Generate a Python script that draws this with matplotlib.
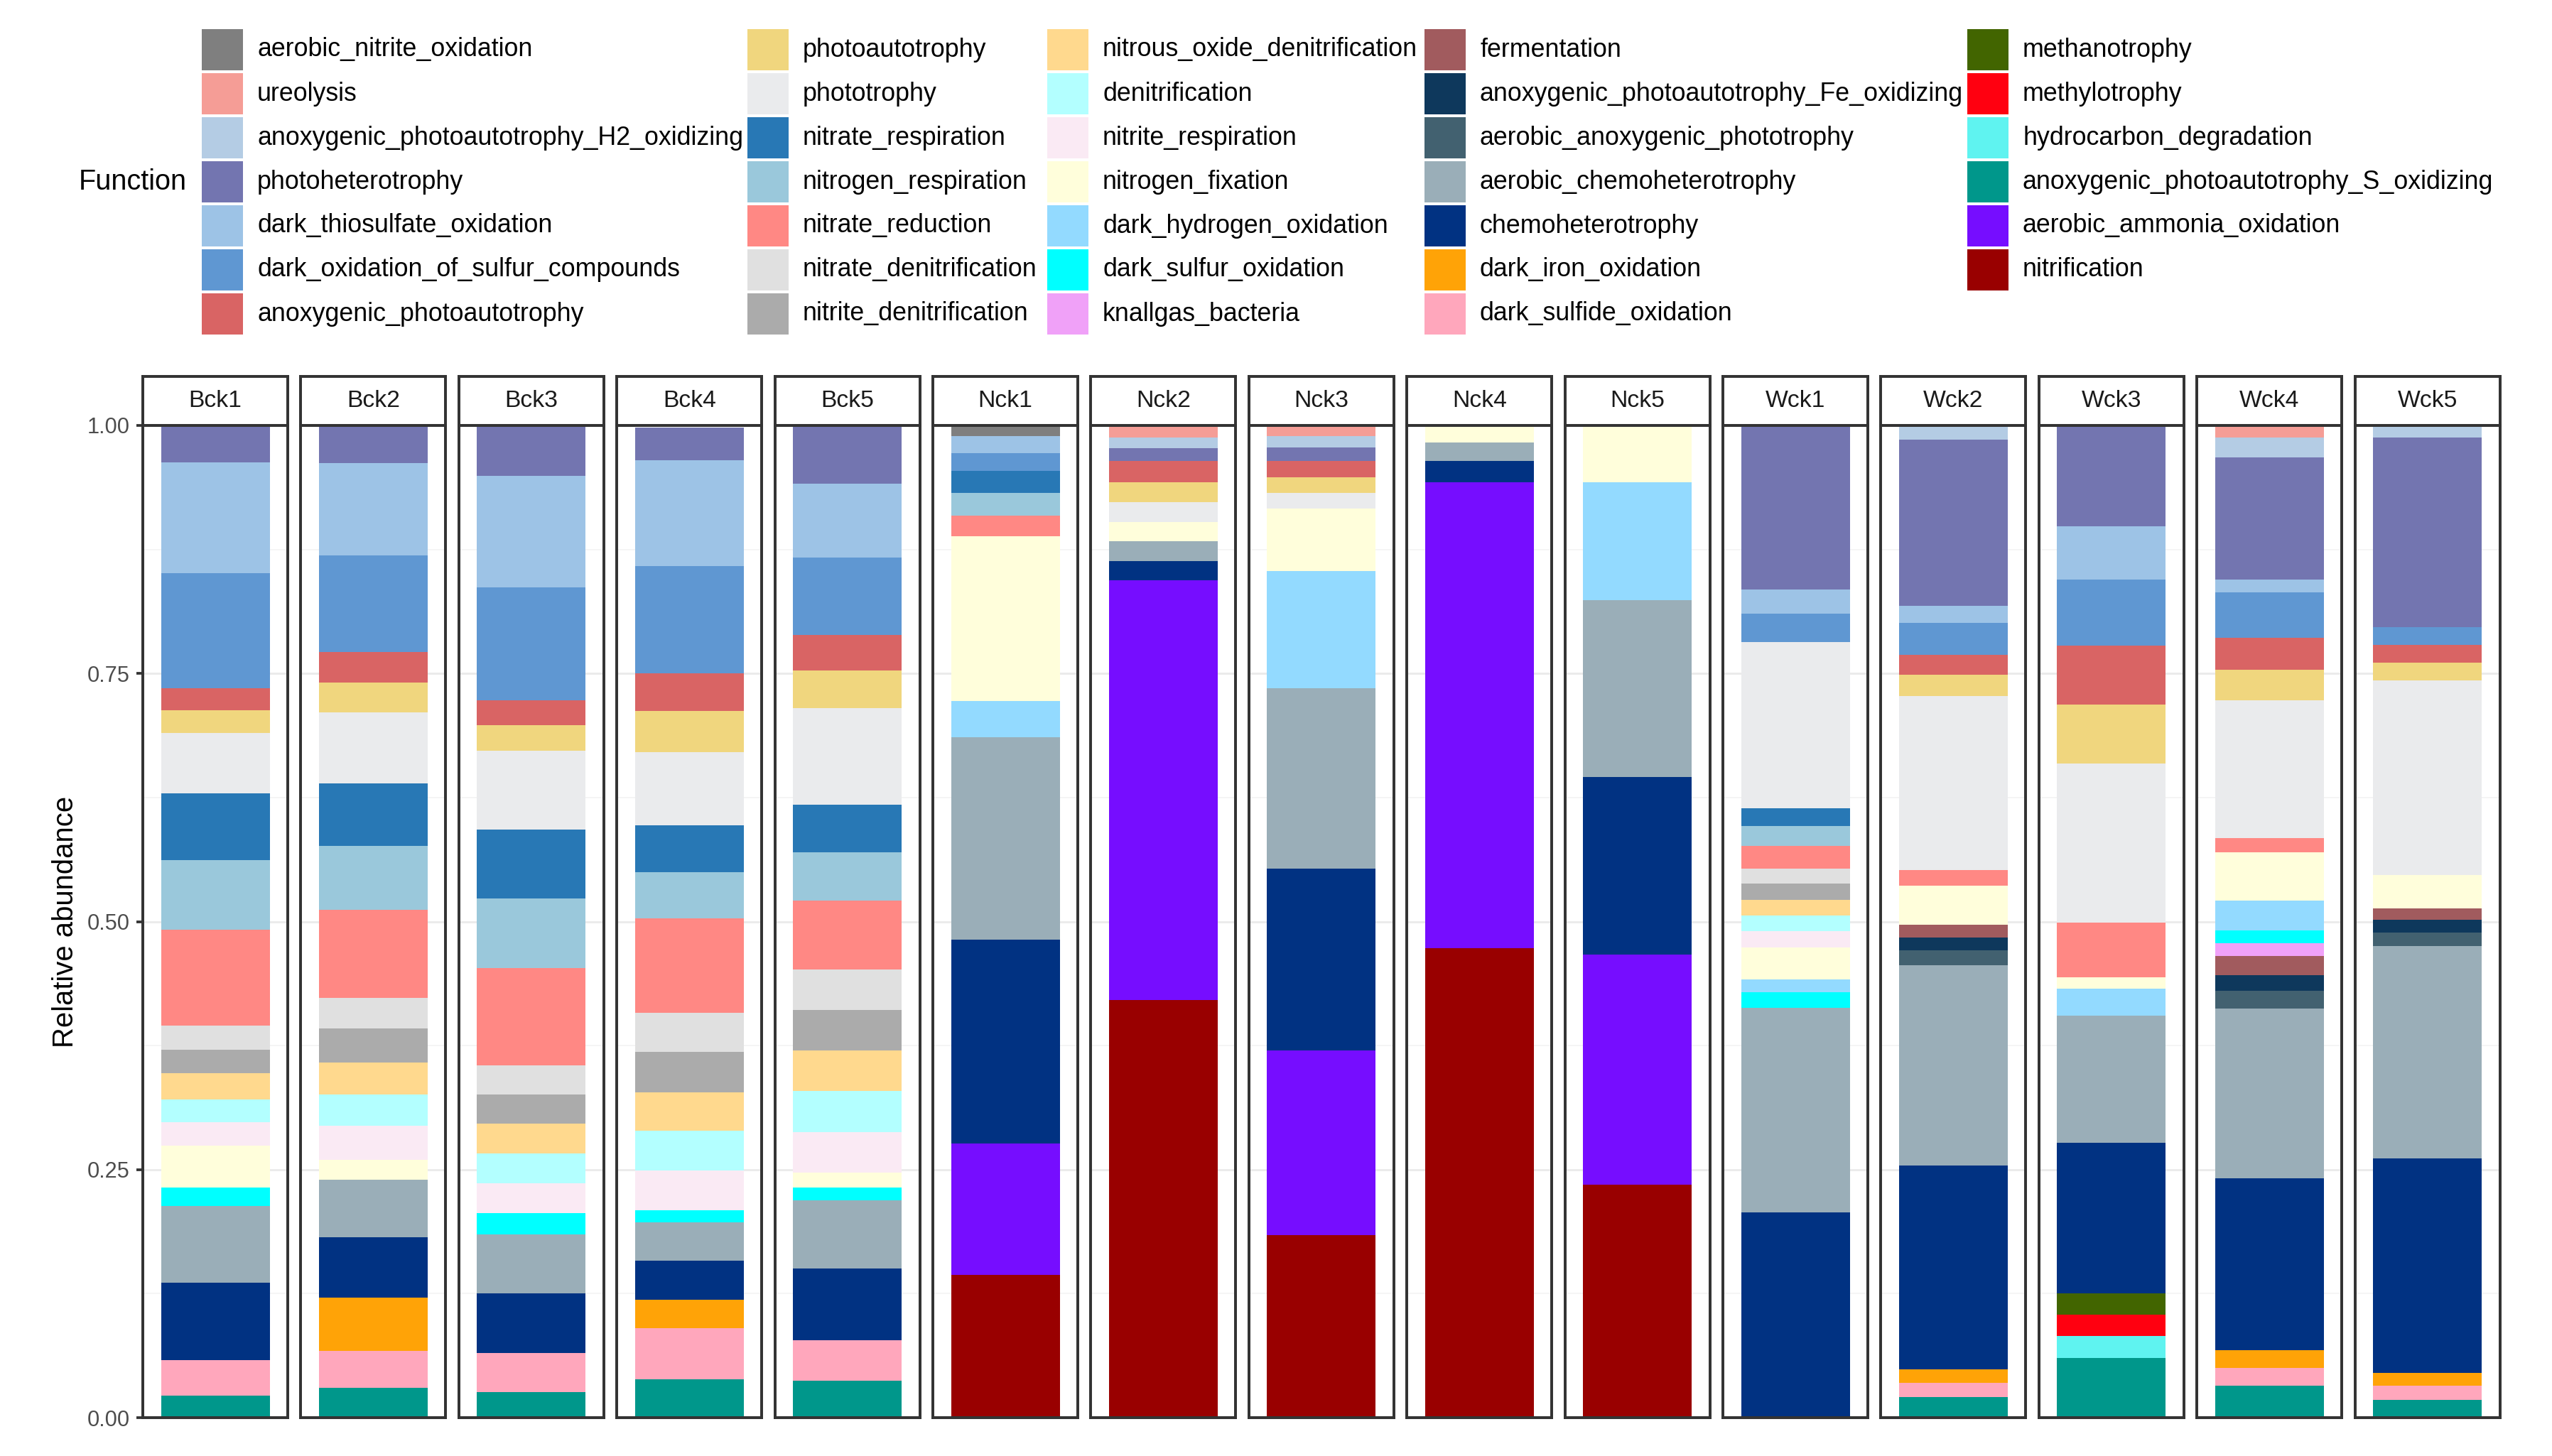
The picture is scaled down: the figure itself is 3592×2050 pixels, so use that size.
import matplotlib
matplotlib.use("Agg")
import matplotlib.pyplot as plt
from matplotlib.patches import Rectangle

plt.rcParams["font.family"] = ["Liberation Sans", "DejaVu Sans"]

# ---------------- data ----------------
functions = [
    "aerobic_nitrite_oxidation", "ureolysis", "anoxygenic_photoautotrophy_H2_oxidizing",
    "photoheterotrophy", "dark_thiosulfate_oxidation", "dark_oxidation_of_sulfur_compounds",
    "anoxygenic_photoautotrophy",
    "photoautotrophy", "phototrophy", "nitrate_respiration", "nitrogen_respiration",
    "nitrate_reduction", "nitrate_denitrification", "nitrite_denitrification",
    "nitrous_oxide_denitrification", "denitrification", "nitrite_respiration",
    "nitrogen_fixation", "dark_hydrogen_oxidation", "dark_sulfur_oxidation", "knallgas_bacteria",
    "fermentation", "anoxygenic_photoautotrophy_Fe_oxidizing", "aerobic_anoxygenic_phototrophy",
    "aerobic_chemoheterotrophy", "chemoheterotrophy", "dark_iron_oxidation", "dark_sulfide_oxidation",
    "methanotrophy", "methylotrophy", "hydrocarbon_degradation",
    "anoxygenic_photoautotrophy_S_oxidizing", "aerobic_ammonia_oxidation", "nitrification",
]

function_colors = [
    "#7F7F7F", "#F59D96", "#B4CCE4", "#7375B0", "#9DC3E6", "#5F97D2", "#D96464",
    "#F0D67E", "#EAEBED", "#2878B5", "#9AC8DB", "#FF8884", "#E0E0E0", "#ABABAB",
    "#FFD98E", "#B3FFFF", "#FAEAF4", "#FFFEDB", "#93DAFF", "#00FFFF", "#F0A1F8",
    "#A15B5E", "#0E385C", "#426170", "#9AAEB8", "#013282", "#FFA307", "#FFA7BC",
    "#426500", "#FF0010", "#5FF3F0", "#00978B", "#760DFF", "#990000",
]

samples = ["Bck1", "Bck2", "Bck3", "Bck4", "Bck5",
           "Nck1", "Nck2", "Nck3", "Nck4", "Nck5",
           "Wck1", "Wck2", "Wck3", "Wck4", "Wck5"]

Bck1 = {"photoheterotrophy": 0.036, "dark_thiosulfate_oxidation": 0.112,
        "dark_oxidation_of_sulfur_compounds": 0.116, "anoxygenic_photoautotrophy": 0.022,
        "photoautotrophy": 0.023, "phototrophy": 0.061, "nitrate_respiration": 0.067,
        "nitrogen_respiration": 0.070, "nitrate_reduction": 0.097, "nitrate_denitrification": 0.024,
        "nitrite_denitrification": 0.024, "nitrous_oxide_denitrification": 0.026,
        "denitrification": 0.023, "nitrite_respiration": 0.024, "nitrogen_fixation": 0.042,
        "dark_sulfur_oxidation": 0.019, "aerobic_chemoheterotrophy": 0.077,
        "chemoheterotrophy": 0.078, "dark_sulfide_oxidation": 0.036,
        "anoxygenic_photoautotrophy_S_oxidizing": 0.022}
Bck2 = {"photoheterotrophy": 0.039, "dark_thiosulfate_oxidation": 0.093,
        "dark_oxidation_of_sulfur_compounds": 0.097, "anoxygenic_photoautotrophy": 0.031,
        "photoautotrophy": 0.030, "phototrophy": 0.072, "nitrate_respiration": 0.063,
        "nitrogen_respiration": 0.064, "nitrate_reduction": 0.089, "nitrate_denitrification": 0.031,
        "nitrite_denitrification": 0.034, "nitrous_oxide_denitrification": 0.032,
        "denitrification": 0.032, "nitrite_respiration": 0.034, "nitrogen_fixation": 0.020,
        "aerobic_chemoheterotrophy": 0.058, "chemoheterotrophy": 0.061,
        "dark_iron_oxidation": 0.054, "dark_sulfide_oxidation": 0.037,
        "anoxygenic_photoautotrophy_S_oxidizing": 0.030}
Bck3 = {"photoheterotrophy": 0.053, "dark_thiosulfate_oxidation": 0.112,
        "dark_oxidation_of_sulfur_compounds": 0.114, "anoxygenic_photoautotrophy": 0.025,
        "photoautotrophy": 0.026, "phototrophy": 0.079, "nitrate_respiration": 0.070,
        "nitrogen_respiration": 0.070, "nitrate_reduction": 0.098, "nitrate_denitrification": 0.029,
        "nitrite_denitrification": 0.030, "nitrous_oxide_denitrification": 0.030,
        "denitrification": 0.030, "nitrite_respiration": 0.030,
        "dark_sulfur_oxidation": 0.021, "aerobic_chemoheterotrophy": 0.060,
        "chemoheterotrophy": 0.060, "dark_sulfide_oxidation": 0.039,
        "anoxygenic_photoautotrophy_S_oxidizing": 0.026}
Bck4 = {"photoheterotrophy": 0.033, "dark_thiosulfate_oxidation": 0.107,
        "dark_oxidation_of_sulfur_compounds": 0.108, "anoxygenic_photoautotrophy": 0.038,
        "photoautotrophy": 0.041, "phototrophy": 0.074, "nitrate_respiration": 0.047,
        "nitrogen_respiration": 0.047, "nitrate_reduction": 0.095, "nitrate_denitrification": 0.039,
        "nitrite_denitrification": 0.041, "nitrous_oxide_denitrification": 0.039,
        "denitrification": 0.040, "nitrite_respiration": 0.040,
        "dark_sulfur_oxidation": 0.012, "aerobic_chemoheterotrophy": 0.039,
        "chemoheterotrophy": 0.039, "dark_iron_oxidation": 0.029,
        "dark_sulfide_oxidation": 0.051, "anoxygenic_photoautotrophy_S_oxidizing": 0.039}
Bck5 = {"photoheterotrophy": 0.059, "dark_thiosulfate_oxidation": 0.074,
        "dark_oxidation_of_sulfur_compounds": 0.078, "anoxygenic_photoautotrophy": 0.036,
        "photoautotrophy": 0.038, "phototrophy": 0.097, "nitrate_respiration": 0.048,
        "nitrogen_respiration": 0.049, "nitrate_reduction": 0.069, "nitrate_denitrification": 0.041,
        "nitrite_denitrification": 0.041, "nitrous_oxide_denitrification": 0.041,
        "denitrification": 0.041, "nitrite_respiration": 0.041, "nitrogen_fixation": 0.015,
        "dark_sulfur_oxidation": 0.013, "aerobic_chemoheterotrophy": 0.069,
        "chemoheterotrophy": 0.072, "dark_sulfide_oxidation": 0.041,
        "anoxygenic_photoautotrophy_S_oxidizing": 0.037}
Nck1 = {"aerobic_nitrite_oxidation": 0.011, "dark_thiosulfate_oxidation": 0.017,
        "dark_oxidation_of_sulfur_compounds": 0.018, "nitrate_respiration": 0.022,
        "nitrogen_respiration": 0.023, "nitrate_reduction": 0.021, "nitrogen_fixation": 0.166,
        "dark_hydrogen_oxidation": 0.036, "aerobic_chemoheterotrophy": 0.204,
        "chemoheterotrophy": 0.206, "aerobic_ammonia_oxidation": 0.132, "nitrification": 0.144}
Nck2 = {"ureolysis": 0.012, "anoxygenic_photoautotrophy_H2_oxidizing": 0.011,
        "photoheterotrophy": 0.013, "anoxygenic_photoautotrophy": 0.021, "photoautotrophy": 0.020,
        "phototrophy": 0.020, "nitrogen_fixation": 0.020, "aerobic_chemoheterotrophy": 0.020,
        "chemoheterotrophy": 0.019, "aerobic_ammonia_oxidation": 0.423, "nitrification": 0.421}
Nck3 = {"ureolysis": 0.010, "anoxygenic_photoautotrophy_H2_oxidizing": 0.011,
        "photoheterotrophy": 0.014, "anoxygenic_photoautotrophy": 0.016, "photoautotrophy": 0.016,
        "phototrophy": 0.016, "nitrogen_fixation": 0.063, "dark_hydrogen_oxidation": 0.118,
        "aerobic_chemoheterotrophy": 0.182, "chemoheterotrophy": 0.183,
        "aerobic_ammonia_oxidation": 0.186, "nitrification": 0.184}
Nck4 = {"nitrogen_fixation": 0.017, "aerobic_chemoheterotrophy": 0.019, "chemoheterotrophy": 0.021,
        "aerobic_ammonia_oxidation": 0.470, "nitrification": 0.473}
Nck5 = {"nitrogen_fixation": 0.057, "dark_hydrogen_oxidation": 0.119,
        "aerobic_chemoheterotrophy": 0.178, "chemoheterotrophy": 0.179,
        "aerobic_ammonia_oxidation": 0.232, "nitrification": 0.235}
Wck1 = {"photoheterotrophy": 0.164, "dark_thiosulfate_oxidation": 0.025,
        "dark_oxidation_of_sulfur_compounds": 0.028, "phototrophy": 0.168,
        "nitrate_respiration": 0.018, "nitrogen_respiration": 0.020, "nitrate_reduction": 0.023,
        "nitrate_denitrification": 0.015, "nitrite_denitrification": 0.016,
        "nitrous_oxide_denitrification": 0.016, "denitrification": 0.016,
        "nitrite_respiration": 0.016, "nitrogen_fixation": 0.032, "dark_hydrogen_oxidation": 0.013,
        "dark_sulfur_oxidation": 0.016, "aerobic_chemoheterotrophy": 0.206,
        "chemoheterotrophy": 0.207}
Wck2 = {"anoxygenic_photoautotrophy_H2_oxidizing": 0.013, "photoheterotrophy": 0.168,
        "dark_thiosulfate_oxidation": 0.017, "dark_oxidation_of_sulfur_compounds": 0.032,
        "anoxygenic_photoautotrophy": 0.020, "photoautotrophy": 0.022, "phototrophy": 0.175,
        "nitrate_reduction": 0.016, "nitrogen_fixation": 0.039, "fermentation": 0.013,
        "anoxygenic_photoautotrophy_Fe_oxidizing": 0.013, "aerobic_anoxygenic_phototrophy": 0.015,
        "aerobic_chemoheterotrophy": 0.202, "chemoheterotrophy": 0.205,
        "dark_iron_oxidation": 0.014, "dark_sulfide_oxidation": 0.014,
        "anoxygenic_photoautotrophy_S_oxidizing": 0.021}
Wck3 = {"photoheterotrophy": 0.102, "dark_thiosulfate_oxidation": 0.053,
        "dark_oxidation_of_sulfur_compounds": 0.067, "anoxygenic_photoautotrophy": 0.059,
        "photoautotrophy": 0.060, "phototrophy": 0.160, "nitrate_reduction": 0.055,
        "nitrogen_fixation": 0.012, "dark_hydrogen_oxidation": 0.027,
        "aerobic_chemoheterotrophy": 0.128, "chemoheterotrophy": 0.152, "methanotrophy": 0.021,
        "methylotrophy": 0.022, "hydrocarbon_degradation": 0.022,
        "anoxygenic_photoautotrophy_S_oxidizing": 0.060}
Wck4 = {"ureolysis": 0.012, "anoxygenic_photoautotrophy_H2_oxidizing": 0.020,
        "photoheterotrophy": 0.123, "dark_thiosulfate_oxidation": 0.013,
        "dark_oxidation_of_sulfur_compounds": 0.046, "anoxygenic_photoautotrophy": 0.032,
        "photoautotrophy": 0.031, "phototrophy": 0.139, "nitrate_reduction": 0.014,
        "nitrogen_fixation": 0.049, "dark_hydrogen_oxidation": 0.030, "dark_sulfur_oxidation": 0.013,
        "knallgas_bacteria": 0.013, "fermentation": 0.019,
        "anoxygenic_photoautotrophy_Fe_oxidizing": 0.016, "aerobic_anoxygenic_phototrophy": 0.018,
        "aerobic_chemoheterotrophy": 0.171, "chemoheterotrophy": 0.173, "dark_iron_oxidation": 0.018,
        "dark_sulfide_oxidation": 0.018, "anoxygenic_photoautotrophy_S_oxidizing": 0.032}
Wck5 = {"anoxygenic_photoautotrophy_H2_oxidizing": 0.011, "photoheterotrophy": 0.191,
        "dark_oxidation_of_sulfur_compounds": 0.018, "anoxygenic_photoautotrophy": 0.018,
        "photoautotrophy": 0.018, "phototrophy": 0.196, "nitrogen_fixation": 0.034,
        "fermentation": 0.011, "anoxygenic_photoautotrophy_Fe_oxidizing": 0.013,
        "aerobic_anoxygenic_phototrophy": 0.014, "aerobic_chemoheterotrophy": 0.214,
        "chemoheterotrophy": 0.216, "dark_iron_oxidation": 0.013, "dark_sulfide_oxidation": 0.014,
        "anoxygenic_photoautotrophy_S_oxidizing": 0.018}

sample_data = [Bck1, Bck2, Bck3, Bck4, Bck5, Nck1, Nck2, Nck3, Nck4, Nck5,
               Wck1, Wck2, Wck3, Wck4, Wck5]

y_ticks = [0.0, 0.25, 0.5, 0.75, 1.0]
y_ticklabels = ["0.00", "0.25", "0.50", "0.75", "1.00"]

# ---------------- layout (pixels) ----------------
W, H = 3592, 2050
fig = plt.figure(figsize=(W / 300, H / 300), dpi=300)
fig.patch.set_facecolor("white")

def fx(x):
    return x / W

def fy(y):
    return 1 - y / H

panel_left0, panel_pitch, panel_w = 201, 222.4, 204
panel_top, panel_bottom = 599, 1996
strip_h = 69
border_col = "#333333"
border_lw = 0.95

color_of = dict(zip(functions, function_colors))

for i, (name, data) in enumerate(zip(samples, sample_data)):
    left = panel_left0 + i * panel_pitch
    ax = fig.add_axes([fx(left), fy(panel_bottom), panel_w / W, (panel_bottom - panel_top) / H])
    ax.set_xlim(-0.6, 0.6)
    ax.set_ylim(0, 1)
    ax.set_yticks(y_ticks)
    ax.set_yticks([0.125, 0.375, 0.625, 0.875], minor=True)
    ax.grid(True, which="major", axis="y", color="#EBEBEB", linewidth=0.7)
    ax.grid(True, which="minor", axis="y", color="#F3F3F3", linewidth=0.4)
    ax.set_axisbelow(True)
    ax.set_xticks([])
    bottom = 0.0
    for f in reversed(functions):
        v = data.get(f, 0.0)
        if v <= 0:
            continue
        ax.bar(0, v, bottom=bottom, width=0.9, color=color_of[f], linewidth=0)
        bottom += v
    for sp in ax.spines.values():
        sp.set_color(border_col)
        sp.set_linewidth(border_lw)
    if i == 0:
        ax.set_yticklabels(y_ticklabels)
        ax.tick_params(axis="y", which="major", length=2.2, width=0.9, color=border_col,
                       labelcolor="#4D4D4D", labelsize=7.4, pad=2.2)
        ax.tick_params(axis="y", which="minor", length=0)
    else:
        ax.tick_params(axis="y", which="both", length=0, labelleft=False)

    sax = fig.add_axes([fx(left), fy(panel_top), panel_w / W, strip_h / H])
    sax.set_xticks([])
    sax.set_yticks([])
    sax.set_facecolor("white")
    for sp in sax.spines.values():
        sp.set_color(border_col)
        sp.set_linewidth(border_lw)
    sax.text(0.5, 0.5, name, ha="center", va="center", fontsize=8.1, color="#1A1A1A",
             transform=sax.transAxes)

# y-axis title
fig.text(fx(92), fy((panel_top + panel_bottom) / 2), "Relative abundance", rotation=90,
         ha="center", va="center", fontsize=9.6, color="black")

# ---------------- legend ----------------
key_x = [284, 1052, 1474, 2005, 2769]
key_size = 58
row_top0, row_pitch = 41, 62
rows_per_col = 7
for k, (f, c) in enumerate(zip(functions, function_colors)):
    col, row = divmod(k, rows_per_col)
    kx = key_x[col]
    ky = row_top0 + row * row_pitch
    fig.add_artist(Rectangle((fx(kx), fy(ky + key_size)), key_size / W, key_size / H,
                             transform=fig.transFigure, facecolor=c, edgecolor="none"))
    fig.text(fx(kx + key_size + 20), fy(ky + key_size / 2), f, ha="left", va="center",
             fontsize=8.6, color="black")

fig.text(fx(111), fy(row_top0 + 3 * row_pitch + key_size / 2), "Function", ha="left",
         va="center", fontsize=9.5, color="black")

fig.savefig("out.png", dpi=300, facecolor="white")
